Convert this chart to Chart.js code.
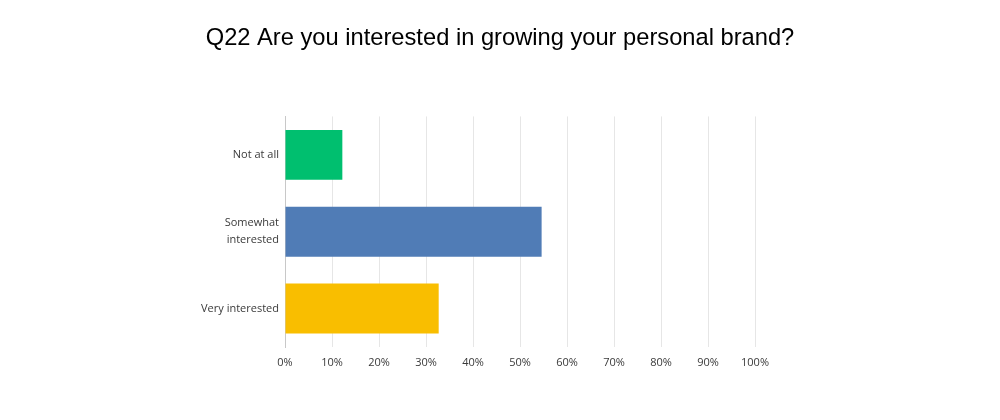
<!DOCTYPE html>
<html>
<head>
<meta charset="utf-8">
<script src="https://cdn.jsdelivr.net/npm/chart.js@4"></script>
<style>
  body { margin: 0; background: #fff; }
  #wrap { width: 1000px; height: 420px; }
</style>
</head>
<body>
<div id="wrap"><canvas id="brandChart"></canvas></div>
<script>
let labels = ["Not at all", ["Somewhat", "interested"], "Very interested"];
let answers = [12.2, 54.6, 32.7];
let barColors = ["#00BF6F", "#507CB6", "#F9BE00"];
let xTicks = [0, 10, 20, 30, 40, 50, 60, 70, 80, 90, 100];

let ctx = document.getElementById("brandChart").getContext("2d");

let myChart = new Chart(ctx, {
  type: "bar",
  data: {
    labels: labels,
    datasets: [
      {
        label: "Responses",
        data: answers,
        backgroundColor: barColors,
        barPercentage: 0.65,
        categoryPercentage: 1
      }
    ]
  },
  options: {
    indexAxis: "y",
    responsive: true,
    maintainAspectRatio: false,
    animation: false,
    layout: {
      padding: 0
    },
    plugins: {
      legend: { display: false },
      tooltip: { enabled: false },
      title: {
        display: true,
        text: "Q22 Are you interested in growing your personal brand?",
        color: "#000",
        font: { family: "Liberation Sans", size: 23.7, weight: "normal" },
        padding: { top: 24, bottom: 64 }
      }
    },
    scales: {
      x: {
        min: 0,
        max: 100,
        afterBuildTicks: (scale) => {
          scale.ticks = xTicks.map(v => ({ value: v }));
        },
        afterFit: (scale) => { scale.height = 73; },
        ticks: {
          callback: (v) => v + "%",
          color: "#3a3a3a",
          font: { family: "Open Sans", size: 11 },
          padding: 9
        },
        grid: { color: "#e6e6e6", drawTicks: false },
        border: { display: false }
      },
      y: {
        afterFit: (scale) => { scale.width = 285; },
        ticks: {
          color: "#3a3a3a",
          font: { family: "Open Sans", size: 11, lineHeight: 1.55 },
          padding: 6
        },
        grid: { display: false, drawTicks: false },
        border: { color: "#c8c8c8" }
      },
      // empty right-hand space so the title stays centred on the page
      spacer: {
        type: "linear",
        position: "right",
        afterFit: (scale) => { scale.width = 245; },
        ticks: { display: false },
        grid: { display: false, drawTicks: false },
        border: { display: false }
      }
    }
  }
});
</script>
</body>
</html>
